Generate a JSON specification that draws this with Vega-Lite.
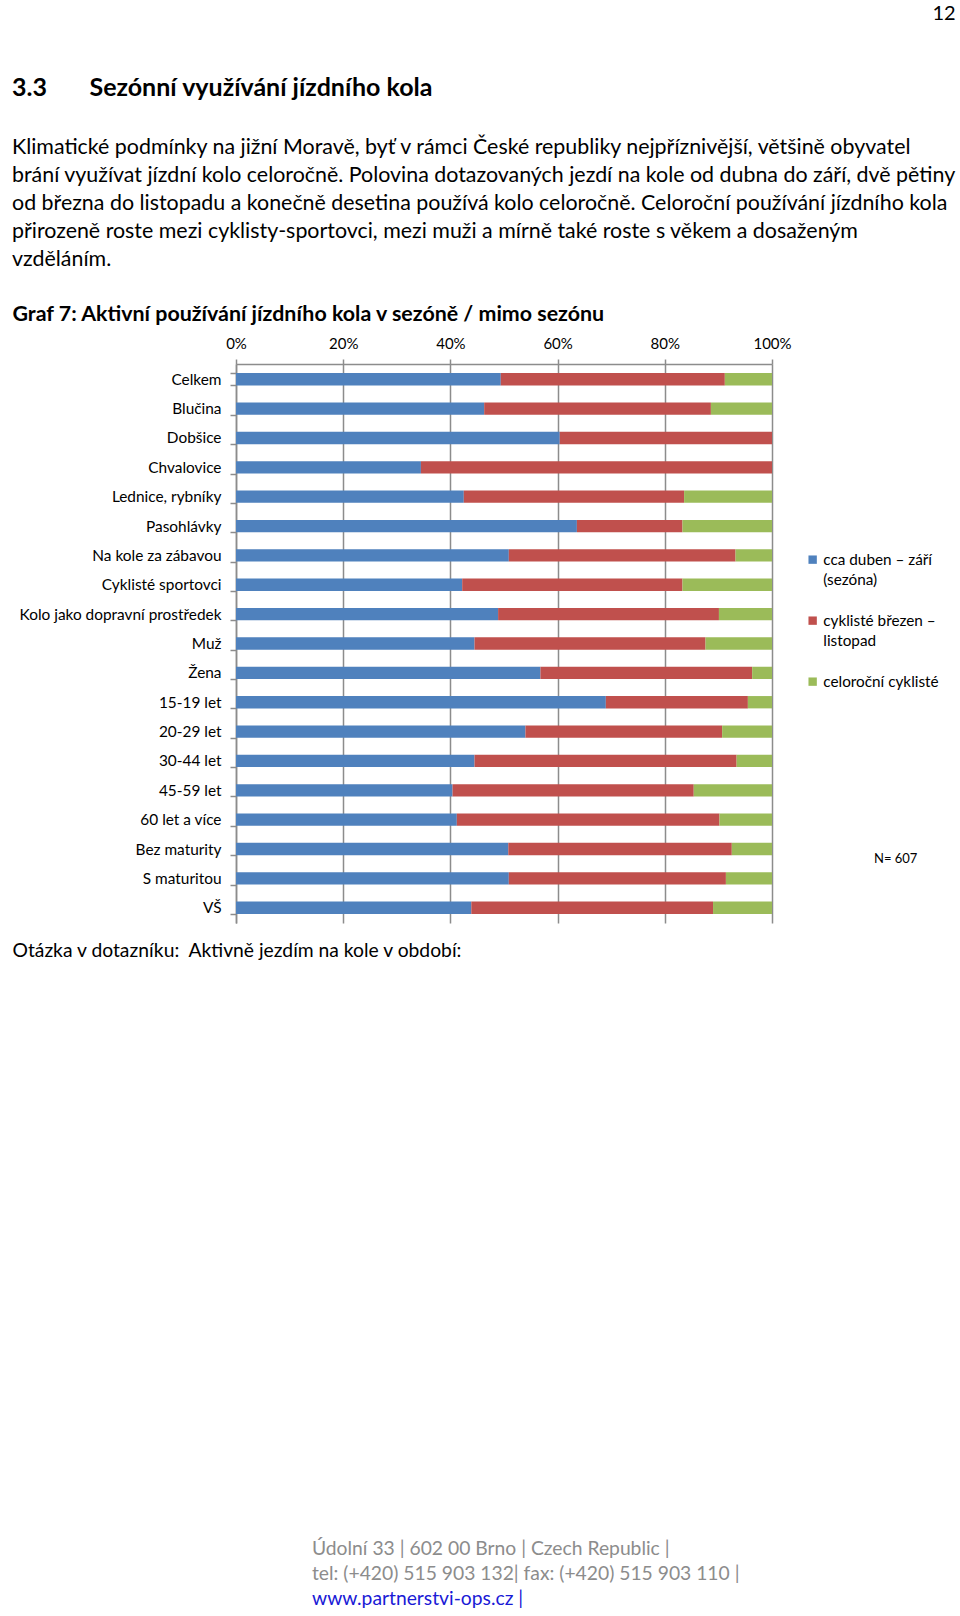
{
  "$schema": "https://vega.github.io/schema/vega-lite/v6.json",
  "background": "white",
  "padding": {"left": 12, "top": 4, "right": 3, "bottom": 0},
  "autosize": {"type": "pad"},
  "config": {
    "view": {"stroke": null},
    "font": "Lato",
    "concat": {"spacing": 579},
    "style": {"guide-label": {"lineHeight": 20}}
  },
  "title": {
    "text": "12",
    "anchor": "end",
    "frame": "bounds",
    "fontSize": 20,
    "fontWeight": "normal",
    "color": "#000000",
    "offset": 52
  },
  "vconcat": [
    {
      "width": 536,
      "height": 559,
      "title": {
        "text": "3.3\u00a0\u00a0\u00a0\u00a0\u00a0\u00a0\u00a0Sezónní využívání jízdního kola",
        "subtitle": [
          "Klimatické podmínky na jižní Moravě, byť v rámci České republiky nejpříznivější, většině obyvatel",
          "brání využívat jízdní kolo celoročně. Polovina dotazovaných jezdí na kole od dubna do září, dvě pětiny",
          "od března do listopadu a konečně desetina používá kolo celoročně. Celoroční používání jízdního kola",
          "přirozeně roste mezi cyklisty-sportovci, mezi muži a mírně také roste s věkem a dosaženým",
          "vzděláním."
        ],
        "anchor": "start",
        "frame": "bounds",
        "fontSize": 25,
        "fontWeight": "bold",
        "color": "#000000",
        "subtitleFontSize": 21.4,
        "subtitleColor": "#000000",
        "subtitleLineHeight": 27.8,
        "subtitlePadding": 36,
        "offset": 33
      },
      "data": {
        "values": [
          {"skupina": "Celkem", "obdobi": "cca duben – září (sezóna)", "poradi": 1, "podil": 49.4},
          {"skupina": "Celkem", "obdobi": "cyklisté březen – listopad", "poradi": 2, "podil": 41.8},
          {"skupina": "Celkem", "obdobi": "celoroční cyklisté", "poradi": 3, "podil": 8.8},
          {"skupina": "Blučina", "obdobi": "cca duben – září (sezóna)", "poradi": 1, "podil": 46.3},
          {"skupina": "Blučina", "obdobi": "cyklisté březen – listopad", "poradi": 2, "podil": 42.3},
          {"skupina": "Blučina", "obdobi": "celoroční cyklisté", "poradi": 3, "podil": 11.4},
          {"skupina": "Dobšice", "obdobi": "cca duben – září (sezóna)", "poradi": 1, "podil": 60.4},
          {"skupina": "Dobšice", "obdobi": "cyklisté březen – listopad", "poradi": 2, "podil": 39.6},
          {"skupina": "Dobšice", "obdobi": "celoroční cyklisté", "poradi": 3, "podil": 0},
          {"skupina": "Chvalovice", "obdobi": "cca duben – září (sezóna)", "poradi": 1, "podil": 34.5},
          {"skupina": "Chvalovice", "obdobi": "cyklisté březen – listopad", "poradi": 2, "podil": 65.5},
          {"skupina": "Chvalovice", "obdobi": "celoroční cyklisté", "poradi": 3, "podil": 0},
          {"skupina": "Lednice, rybníky", "obdobi": "cca duben – září (sezóna)", "poradi": 1, "podil": 42.5},
          {"skupina": "Lednice, rybníky", "obdobi": "cyklisté březen – listopad", "poradi": 2, "podil": 41.1},
          {"skupina": "Lednice, rybníky", "obdobi": "celoroční cyklisté", "poradi": 3, "podil": 16.4},
          {"skupina": "Pasohlávky", "obdobi": "cca duben – září (sezóna)", "poradi": 1, "podil": 63.6},
          {"skupina": "Pasohlávky", "obdobi": "cyklisté březen – listopad", "poradi": 2, "podil": 19.7},
          {"skupina": "Pasohlávky", "obdobi": "celoroční cyklisté", "poradi": 3, "podil": 16.7},
          {"skupina": "Na kole za zábavou", "obdobi": "cca duben – září (sezóna)", "poradi": 1, "podil": 50.9},
          {"skupina": "Na kole za zábavou", "obdobi": "cyklisté březen – listopad", "poradi": 2, "podil": 42.3},
          {"skupina": "Na kole za zábavou", "obdobi": "celoroční cyklisté", "poradi": 3, "podil": 6.8},
          {"skupina": "Cyklisté sportovci", "obdobi": "cca duben – září (sezóna)", "poradi": 1, "podil": 42.2},
          {"skupina": "Cyklisté sportovci", "obdobi": "cyklisté březen – listopad", "poradi": 2, "podil": 41.1},
          {"skupina": "Cyklisté sportovci", "obdobi": "celoroční cyklisté", "poradi": 3, "podil": 16.7},
          {"skupina": "Kolo jako dopravní prostředek", "obdobi": "cca duben – září (sezóna)", "poradi": 1, "podil": 48.9},
          {"skupina": "Kolo jako dopravní prostředek", "obdobi": "cyklisté březen – listopad", "poradi": 2, "podil": 41.2},
          {"skupina": "Kolo jako dopravní prostředek", "obdobi": "celoroční cyklisté", "poradi": 3, "podil": 9.9},
          {"skupina": "Muž", "obdobi": "cca duben – září (sezóna)", "poradi": 1, "podil": 44.5},
          {"skupina": "Muž", "obdobi": "cyklisté březen – listopad", "poradi": 2, "podil": 43.1},
          {"skupina": "Muž", "obdobi": "celoroční cyklisté", "poradi": 3, "podil": 12.4},
          {"skupina": "Žena", "obdobi": "cca duben – září (sezóna)", "poradi": 1, "podil": 56.8},
          {"skupina": "Žena", "obdobi": "cyklisté březen – listopad", "poradi": 2, "podil": 39.5},
          {"skupina": "Žena", "obdobi": "celoroční cyklisté", "poradi": 3, "podil": 3.7},
          {"skupina": "15-19 let", "obdobi": "cca duben – září (sezóna)", "poradi": 1, "podil": 69.0},
          {"skupina": "15-19 let", "obdobi": "cyklisté březen – listopad", "poradi": 2, "podil": 26.5},
          {"skupina": "15-19 let", "obdobi": "celoroční cyklisté", "poradi": 3, "podil": 4.5},
          {"skupina": "20-29 let", "obdobi": "cca duben – září (sezóna)", "poradi": 1, "podil": 54.0},
          {"skupina": "20-29 let", "obdobi": "cyklisté březen – listopad", "poradi": 2, "podil": 36.7},
          {"skupina": "20-29 let", "obdobi": "celoroční cyklisté", "poradi": 3, "podil": 9.3},
          {"skupina": "30-44 let", "obdobi": "cca duben – září (sezóna)", "poradi": 1, "podil": 44.5},
          {"skupina": "30-44 let", "obdobi": "cyklisté březen – listopad", "poradi": 2, "podil": 48.9},
          {"skupina": "30-44 let", "obdobi": "celoroční cyklisté", "poradi": 3, "podil": 6.6},
          {"skupina": "45-59 let", "obdobi": "cca duben – září (sezóna)", "poradi": 1, "podil": 40.4},
          {"skupina": "45-59 let", "obdobi": "cyklisté březen – listopad", "poradi": 2, "podil": 45.0},
          {"skupina": "45-59 let", "obdobi": "celoroční cyklisté", "poradi": 3, "podil": 14.6},
          {"skupina": "60 let a více", "obdobi": "cca duben – září (sezóna)", "poradi": 1, "podil": 41.2},
          {"skupina": "60 let a více", "obdobi": "cyklisté březen – listopad", "poradi": 2, "podil": 49.0},
          {"skupina": "60 let a více", "obdobi": "celoroční cyklisté", "poradi": 3, "podil": 9.8},
          {"skupina": "Bez maturity", "obdobi": "cca duben – září (sezóna)", "poradi": 1, "podil": 50.8},
          {"skupina": "Bez maturity", "obdobi": "cyklisté březen – listopad", "poradi": 2, "podil": 41.7},
          {"skupina": "Bez maturity", "obdobi": "celoroční cyklisté", "poradi": 3, "podil": 7.5},
          {"skupina": "S maturitou", "obdobi": "cca duben – září (sezóna)", "poradi": 1, "podil": 50.9},
          {"skupina": "S maturitou", "obdobi": "cyklisté březen – listopad", "poradi": 2, "podil": 40.5},
          {"skupina": "S maturitou", "obdobi": "celoroční cyklisté", "poradi": 3, "podil": 8.6},
          {"skupina": "VŠ", "obdobi": "cca duben – září (sezóna)", "poradi": 1, "podil": 43.9},
          {"skupina": "VŠ", "obdobi": "cyklisté březen – listopad", "poradi": 2, "podil": 45.1},
          {"skupina": "VŠ", "obdobi": "celoroční cyklisté", "poradi": 3, "podil": 11.0}
        ]
      },
      "resolve": {"axis": {"x": "independent"}},
      "layer": [
        {
          "mark": {"type": "bar"},
          "encoding": {
            "y": {
              "field": "skupina",
              "type": "nominal",
              "sort": ["Celkem", "Blučina", "Dobšice", "Chvalovice", "Lednice, rybníky", "Pasohlávky", "Na kole za zábavou", "Cyklisté sportovci", "Kolo jako dopravní prostředek", "Muž", "Žena", "15-19 let", "20-29 let", "30-44 let", "45-59 let", "60 let a více", "Bez maturity", "S maturitou", "VŠ"],
              "scale": {"paddingInner": 0.58, "paddingOuter": 0.31},
              "axis": {
                "title": null,
                "orient": "left",
                "tickBand": "extent",
                "domain": true,
                "domainColor": "#8c8c8c",
                "domainWidth": 1.5,
                "ticks": true,
                "tickColor": "#8c8c8c",
                "tickWidth": 1.5,
                "tickSize": 6,
                "labelPadding": 9,
                "labelFontSize": 15.4,
                "labelLimit": 320,
                "labelColor": "#000000",
                "grid": false
              }
            },
            "x": {
              "field": "podil",
              "type": "quantitative",
              "stack": "zero",
              "scale": {"domain": [0, 100], "nice": false},
              "axis": {
                "orient": "top",
                "values": [0, 20, 40, 60, 80, 100],
                "labelExpr": "datum.value + '%'",
                "labelFontSize": 15,
                "labelColor": "#000000",
                "labelPadding": 8,
                "labelFlush": false,
                "grid": true,
                "gridColor": "#8c8c8c",
                "gridWidth": 1.5,
                "domain": true,
                "domainColor": "#8c8c8c",
                "domainWidth": 1.5,
                "tickColor": "#8c8c8c",
                "tickWidth": 1.5,
                "tickSize": 5,
                "title": "Graf 7: Aktivní používání jízdního kola v sezóně / mimo sezónu",
                "titleFontSize": 21.4,
                "titleFontWeight": "bold",
                "titleColor": "#000000",
                "titleAnchor": "start",
                "titleAlign": "left",
                "titleBaseline": "middle",
                "titleX": -224,
                "titleY": -50
              }
            },
            "order": {"field": "poradi", "type": "quantitative", "sort": "ascending"},
            "color": {
              "field": "obdobi",
              "type": "nominal",
              "sort": ["cca duben – září (sezóna)", "cyklisté březen – listopad", "celoroční cyklisté"],
              "scale": {
                "domain": ["cca duben – září (sezóna)", "cyklisté březen – listopad", "celoroční cyklisté"],
                "range": ["#4F81BD", "#C0504D", "#9BBB59"]
              },
              "legend": {
                "title": null,
                "orient": "none",
                "legendX": 569,
                "legendY": 188,
                "symbolType": "square",
                "symbolSize": 70,
                "symbolStrokeWidth": 0,
                "labelFontSize": 15.3,
                "labelColor": "#000000",
                "labelOffset": 3,
                "labelLimit": 200,
                "rowPadding": 25,
                "labelExpr": "datum.label == 'cca duben – září (sezóna)' ? ['cca duben – září', '(sezóna)'] : datum.label == 'cyklisté březen – listopad' ? ['cyklisté březen –', 'listopad'] : datum.label"
              }
            }
          }
        },
        {
          "data": {"values": [{"poznamka": "N= 607"}]},
          "mark": {"type": "text", "align": "left", "baseline": "middle", "fontSize": 13, "dx": 102, "dy": 10, "color": "#000000"},
          "encoding": {
            "text": {"field": "poznamka"},
            "x": {
              "datum": 100,
              "type": "quantitative",
              "axis": {
                "orient": "bottom",
                "labels": false,
                "ticks": false,
                "domain": false,
                "grid": false,
                "title": "Otázka v dotazníku:\u00a0\u00a0Aktivně jezdím na kole v období:",
                "titleFontSize": 19.3,
                "titleFontWeight": "normal",
                "titleColor": "#000000",
                "titleAnchor": "start",
                "titleAlign": "left",
                "titleBaseline": "middle",
                "titleX": -224,
                "titleY": 27
              }
            },
            "y": {"datum": "Bez maturity", "type": "nominal"}
          }
        }
      ]
    },
    {
      "width": 600,
      "height": 1,
      "data": {"values": []},
      "mark": {"type": "point"},
      "title": {
        "text": ["Údolní 33 | 602 00 Brno | Czech Republic |", "tel: (+420) 515 903 132| fax: (+420) 515 903 110 |"],
        "subtitle": "www.partnerstvi-ops.cz |",
        "anchor": "start",
        "frame": "group",
        "dx": 76,
        "fontSize": 19.3,
        "fontWeight": "normal",
        "lineHeight": 25,
        "color": "#8c8c8c",
        "subtitleFontSize": 19.3,
        "subtitleColor": "#1a1ad6",
        "subtitlePadding": 5,
        "offset": 5
      }
    }
  ]
}
